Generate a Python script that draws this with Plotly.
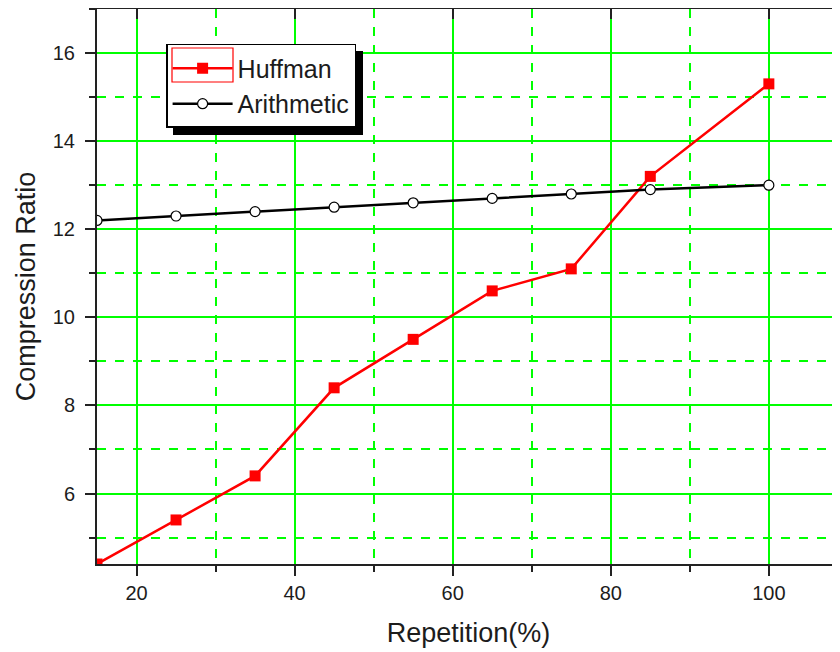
import plotly.graph_objects as go

repetition = [15, 25, 35, 45, 55, 65, 75, 85, 100]
huffman = [4.4, 5.4, 6.4, 8.4, 9.5, 10.6, 11.1, 13.2, 15.3]
arithmetic = [12.2, 12.3, 12.4, 12.5, 12.6, 12.7, 12.8, 12.9, 13.0]
x_ticks = [20, 40, 60, 80, 100]
y_ticks = [6, 8, 10, 12, 14, 16]

FONT = "Liberation Sans, Arial, sans-serif"
TXT = "#1c1c1c"
GREEN = "#00ff00"

fig = go.Figure()
fig.add_trace(go.Scatter(
    x=repetition, y=huffman, name="Huffman", mode="lines+markers",
    line=dict(color="#ff0000", width=2.5),
    marker=dict(symbol="square", size=11, color="#ff0000"),
))
fig.add_trace(go.Scatter(
    x=repetition, y=arithmetic, name="Arithmetic", mode="lines+markers",
    line=dict(color="#000000", width=2.5),
    marker=dict(symbol="circle", size=10, color="#ffffff",
                line=dict(color="#000000", width=1.2)),
))

xr = [15, 109]
yr = [4.4, 17.0]

axis_common = dict(
    showline=True, linecolor="#222222", linewidth=2,
    showgrid=True, gridcolor=GREEN, gridwidth=1.5,
    zeroline=False, automargin=False,
    ticks="outside", tickcolor="#222222", tickwidth=1.5, ticklen=10,
    tickfont=dict(family=FONT, size=20, color=TXT),
)

fig.update_layout(
    width=832, height=644,
    margin=dict(l=89, r=0, t=1, b=88, pad=0),
    paper_bgcolor="white", plot_bgcolor="white",
    font=dict(family=FONT, color=TXT),
    showlegend=True,
    legend=dict(
        x=0.093, y=0.937, xanchor="left", yanchor="top",
        bgcolor="rgba(0,0,0,0)", bordercolor="#000000", borderwidth=1.5,
        font=dict(family=FONT, size=25, color=TXT),
        tracegroupgap=0, itemwidth=60,
    ),
    xaxis=dict(
        range=xr, tickvals=x_ticks, mirror=True,
        minor=dict(dtick=10, tick0=0, ticks="outside", ticklen=6,
                   tickcolor="#222222", showgrid=True, gridcolor=GREEN,
                   griddash="dash", gridwidth=1.5),
        title=dict(text="Repetition(%)", standoff=20,
                   font=dict(family=FONT, size=27, color=TXT)),
        **axis_common,
    ),
    yaxis=dict(
        range=yr, tickvals=y_ticks, mirror=True, ticklabelstandoff=6,
        minor=dict(dtick=1, tick0=5, ticks="outside", ticklen=6,
                   tickcolor="#222222", showgrid=True, gridcolor=GREEN,
                   griddash="dash", gridwidth=1.5),
        title=dict(text="Compression Ratio", standoff=9,
                   font=dict(family=FONT, size=27, color=TXT)),
        **axis_common,
    ),
    xaxis2=dict(
        overlaying="x", side="top", anchor="y", range=xr, tickvals=x_ticks,
        showticklabels=False, showgrid=False, zeroline=False, showline=False,
        automargin=False,
        ticks="inside", ticklen=10, tickwidth=1.5, tickcolor="#222222",
    ),
    yaxis2=dict(
        overlaying="y", side="right", anchor="x", range=yr, tickvals=y_ticks,
        showticklabels=False, showgrid=False, zeroline=False, showline=False,
        automargin=False,
        ticks="inside", ticklen=8, tickwidth=1.5, tickcolor="#222222",
    ),
)

# invisible helper trace so the mirrored tick axes are drawn
fig.add_trace(go.Scatter(x=[None], y=[None], xaxis="x2", yaxis="y2",
                         showlegend=False, hoverinfo="skip"))

# legend decoration: drop shadow, white box, red selection frame
def px_x(p):
    return (p - 97) / 743.0

def px_y(p):
    return (564 - p) / 555.0

LEG_L, LEG_T, LEG_R, LEG_B = 166, 44, 356, 128
fig.add_shape(type="rect", xref="paper", yref="paper", layer="above",
              x0=px_x(LEG_L + 7), x1=px_x(LEG_R + 7),
              y0=px_y(LEG_B + 7), y1=px_y(LEG_T + 7),
              fillcolor="#000000", line=dict(width=0))
fig.add_shape(type="rect", xref="paper", yref="paper", layer="above",
              x0=px_x(LEG_L), x1=px_x(LEG_R), y0=px_y(LEG_B), y1=px_y(LEG_T),
              fillcolor="#ffffff", line=dict(width=0))
fig.add_shape(type="rect", xref="paper", yref="paper", layer="above",
              x0=px_x(LEG_L + 6), x1=px_x(LEG_L + 67),
              y0=px_y(LEG_T + 38), y1=px_y(LEG_T + 4),
              fillcolor="rgba(0,0,0,0)", line=dict(color="#ff0000", width=1.2))

fig.write_html("out.html")
